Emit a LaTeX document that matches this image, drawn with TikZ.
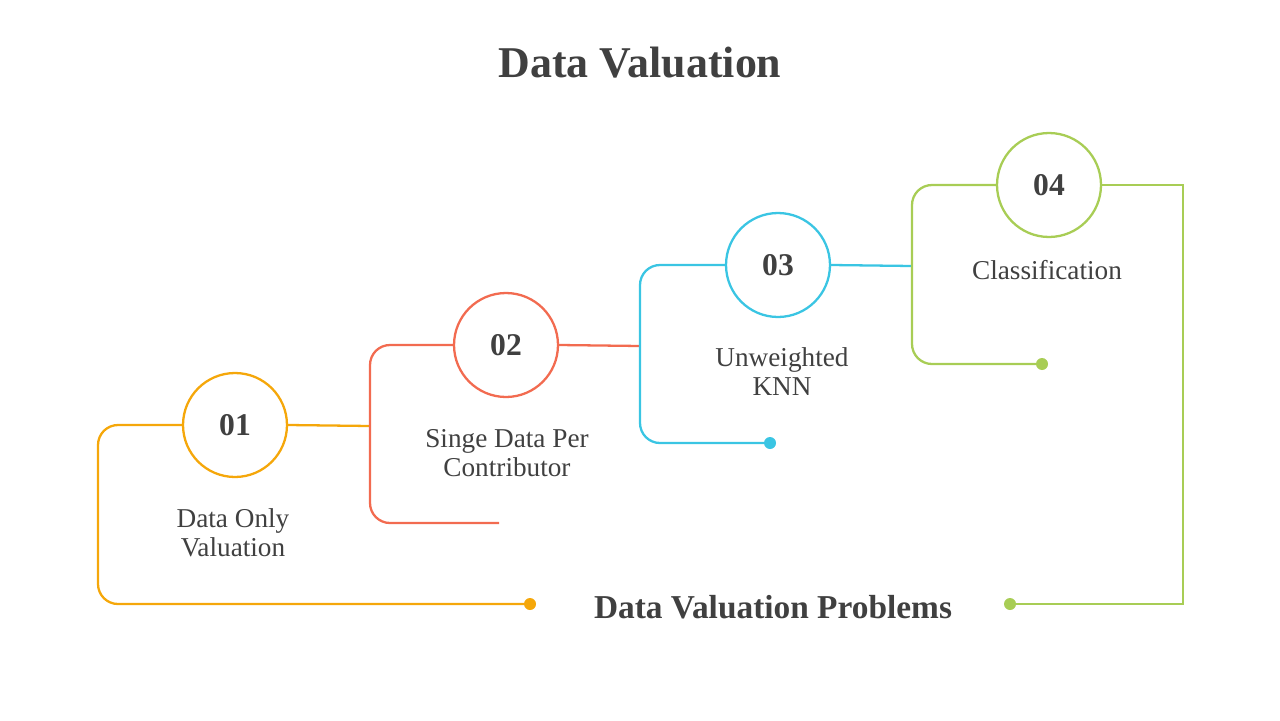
\documentclass[tikz,border=0pt]{standalone}
\usepackage{fontspec}
\setmainfont{Liberation Serif}
\definecolor{txt}{HTML}{404040}
\definecolor{corange}{HTML}{F5A70A}
\definecolor{cred}{HTML}{F26B50}
\definecolor{cblue}{HTML}{3AC5E3}
\definecolor{cgreen}{HTML}{A8CD55}
\tikzset{
  numcirc/.style={circle, draw=#1, line width=1.3pt, fill=white, minimum size=2.08cm, text=txt, font=\fontsize{18}{20}\selectfont\bfseries},
  label/.style={text=txt, align=center, font=\fontsize{15.5}{16.5}\selectfont},
  wire/.style={draw=#1, line width=1.3pt, rounded corners=0.4cm},
  dot/.style={circle, fill=#1, inner sep=0pt, minimum size=0.24cm},
}
\begin{document}
\begin{tikzpicture}[x=0.02cm, y=-0.02cm]
  \useasboundingbox (0,0) rectangle (1280,720);
  \node[text=txt, font=\fontsize{25}{28}\selectfont\bfseries] (title) at (640,63) {Data Valuation};
  % circles
  \node[numcirc=corange] (c1) at (235,425) {01};
  \node[numcirc=cred] (c2) at (506,345) {02};
  \node[numcirc=cblue] (c3) at (778,265) {03};
  \node[numcirc=cgreen] (c4) at (1049,185) {04};
  % end points
  \node[dot=corange] (d1) at (530,604) {};
  \coordinate (d2) at (499,523);
  \node[dot=cblue] (d3) at (770,443) {};
  \node[dot=cgreen] (d4) at (1042,364) {};
  \node[dot=cgreen] (d5) at (1010,604) {};
  % wires
  \draw[wire=corange] (c1.west) -- (98,425) -- (98,604) -- (d1.center);
  \draw[wire=corange, rounded corners=0] (c1.east) -- (370,426);
  \draw[wire=cred] (d2) -- (370,523) -- (370,345) -- (c2.west);
  \draw[wire=cred, rounded corners=0] (c2.east) -- (640,346);
  \draw[wire=cblue] (d3.center) -- (640,443) -- (640,265) -- (c3.west);
  \draw[wire=cblue, rounded corners=0] (c3.east) -- (912,266);
  \draw[wire=cgreen] (d4.center) -- (912,364) -- (912,185) -- (c4.west);
  \draw[wire=cgreen, rounded corners=0] (c4.east) -- (1183,185) -- (1183,604) -- (d5.center);
  % labels
  \node[label] (l1) at (233,533) {Data Only\\Valuation};
  \node[label] (l2) at (507,453) {Singe Data Per\\Contributor};
  \node[label] (l3) at (782,372) {Unweighted\\KNN};
  \node[label] (l4) at (1047,270) {Classification};
  \node[text=txt, font=\fontsize{19}{22}\selectfont\bfseries] (sub) at (773,607) {Data Valuation Problems};
\end{tikzpicture}
\end{document}
